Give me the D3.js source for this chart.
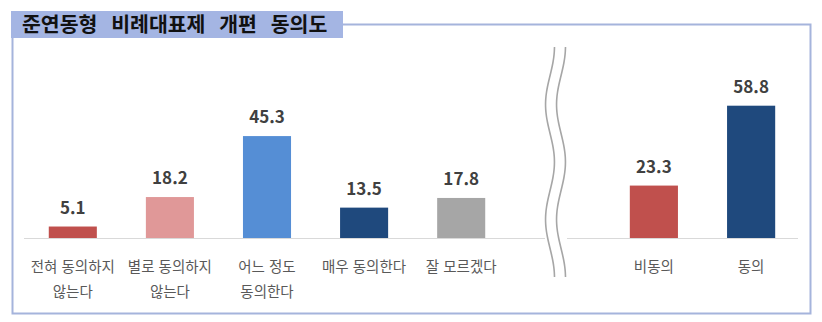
<!DOCTYPE html>
<html lang="ko">
<head>
<meta charset="UTF-8">
<title>준연동형 비례대표제 개편 동의도</title>
<script src="https://d3js.org/d3.v7.min.js"></script>
<style>
  body { margin: 0; background: #fff; }
  svg { display: block; font-family: "Noto Sans CJK KR", "Noto Sans", sans-serif; }
</style>
</head>
<body>
<svg id="chart" width="822" height="322"></svg>
<script>
// left group: detail answers
var detailLabels = [["전혀 동의하지", "않는다"], ["별로 동의하지", "않는다"], ["어느 정도", "동의한다"], ["매우 동의한다"], ["잘 모르겠다"]];
var detailValues = [5.1, 18.2, 45.3, 13.5, 17.8];
var detailColors = ["#c0504d", "#e09898", "#558ed5", "#1f497d", "#a6a6a6"];

// right group: summary
var sumLabels = [["비동의"], ["동의"]];
var sumValues = [23.3, 58.8];
var sumColors = ["#c0504d", "#1f497d"];

var title = "준연동형 비례대표제 개편 동의도";

var svg = d3.select("#chart"),
  base = 238;

var y = d3.scaleLinear().domain([0, 60]).range([base, base - 135]);

var xL = d3.scaleBand().domain(d3.range(detailValues.length)).range([24.5, 509.5]).paddingInner(0.505).paddingOuter(0.25);
var xR = d3.scaleBand().domain(d3.range(sumValues.length)).range([605.5, 799.5]).paddingInner(0.505).paddingOuter(0.25);

// frame
svg.append("path")
  .attr("d", "M343,24.5 H810.5 V313.5 H12.5 V37")
  .attr("fill", "none")
  .attr("stroke", "#a5b4dc")
  .attr("stroke-width", 2);

svg.append("rect")
  .attr("x", 11).attr("y", 11).attr("width", 332).attr("height", 27)
  .attr("fill", "#a4b5e3");

svg.append("text")
  .attr("x", 22).attr("y", 32)
  .attr("font-size", 20.5).attr("font-weight", "bold")
  .attr("fill", "#111")
  .attr("word-spacing", 8)
  .text(title);

// baselines
svg.append("line").attr("x1", 24).attr("x2", 545).attr("y1", base + 0.5).attr("y2", base + 0.5)
  .attr("stroke", "#d9d9d9").attr("stroke-width", 1);
svg.append("line").attr("x1", 567).attr("x2", 798).attr("y1", base + 0.5).attr("y2", base + 0.5)
  .attr("stroke", "#d9d9d9").attr("stroke-width", 1);

function drawGroup(x, vals, labels, colors) {
  var g = svg.append("g");
  g.selectAll("rect").data(vals).enter().append("rect")
    .attr("x", function (d, i) { return x(i); })
    .attr("width", x.bandwidth())
    .attr("y", function (d) { return y(d); })
    .attr("height", function (d) { return base - y(d); })
    .attr("fill", function (d, i) { return colors[i]; });

  g.selectAll(".val").data(vals).enter().append("text")
    .attr("class", "val")
    .attr("x", function (d, i) { return x(i) + x.bandwidth() / 2; })
    .attr("y", function (d) { return y(d) - 13; })
    .attr("text-anchor", "middle")
    .attr("font-size", 17).attr("font-weight", "bold")
    .attr("fill", "#404040")
    .text(function (d) { return d.toFixed(1); });

  labels.forEach(function (lines, i) {
    lines.forEach(function (s, j) {
      g.append("text")
        .attr("x", x(i) + x.bandwidth() / 2)
        .attr("y", 272 + j * 25)
        .attr("text-anchor", "middle")
        .attr("font-size", 14.5)
        .attr("fill", "#595959")
        .text(s);
    });
  });
}

drawGroup(xL, detailValues, detailLabels, detailColors);
drawGroup(xR, sumValues, sumLabels, sumColors);

// axis break: two wavy lines
var wave = d3.line().curve(d3.curveBasis);
[550, 561].forEach(function (cx) {
  var pts = d3.range(0, 231, 5).map(function (t) {
    return [cx + 4.5 * Math.cos(t / 230 * Math.PI * 4), 47 + t];
  });
  svg.append("path").attr("d", wave(pts))
    .attr("fill", "none").attr("stroke", "#a6a6a6").attr("stroke-width", 1.6);
});
</script>
</body>
</html>
